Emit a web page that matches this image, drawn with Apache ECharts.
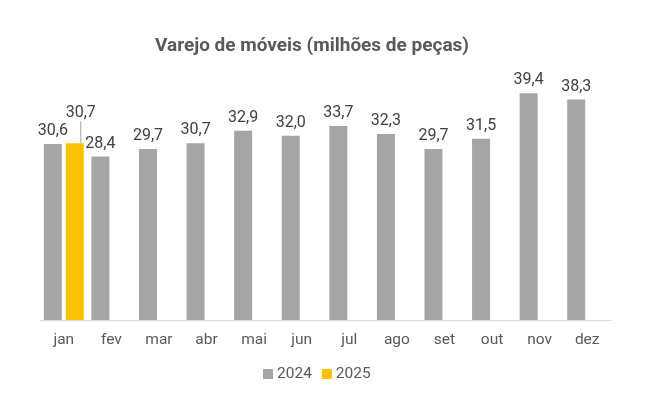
<!DOCTYPE html>
<html><head><meta charset="utf-8">
<script src="https://cdn.jsdelivr.net/npm/echarts@6/dist/echarts.min.js"></script>
<style>html,body{margin:0;padding:0;background:#fff}#c{width:651px;height:396px}</style>
</head><body><div id="c"></div>
<script>
const categories = ['jan','fev','mar','abr','mai','jun','jul','ago','set','out','nov','dez'];
const values2024 = [30.6,28.4,29.7,30.7,32.9,32.0,33.7,32.3,29.7,31.5,39.4,38.3];
const values2025 = [30.7,null,null,null,null,null,null,null,null,null,null,null];
const seriesNames = ['2024','2025'];

const fmt = p => p.value == null ? '' : p.value.toFixed(1).replace('.', ',');
const chart = echarts.init(document.getElementById('c'));
chart.setOption({
  animation: false,
  backgroundColor: '#fff',
  textStyle: { fontFamily: 'Roboto' },
  title: {
    text: 'Varejo de móveis (milhões de peças)',
    left: 150, top: 32,
    textStyle: { fontFamily: 'Roboto', fontSize: 19, fontWeight: 'bold', color: '#595959' }
  },
  legend: {
    data: seriesNames,
    left: 258, top: 361,
    itemWidth: 10, itemHeight: 10, itemGap: 10,
    icon: 'rect',
    textStyle: { fontFamily: 'Roboto', fontSize: 15.5, color: '#595959', padding: [0,0,0,-1] }
  },
  grid: { left: 40, right: 40, top: 61, bottom: 76 },
  xAxis: {
    type: 'category', data: categories,
    axisLine: { lineStyle: { color: '#d9d9d9', width: 1 } },
    axisTick: { show: false },
    axisLabel: { fontFamily: 'Roboto', fontSize: 15.5, color: '#595959', margin: 12 }
  },
  yAxis: { type: 'value', min: 0, max: 45, show: false, splitLine: { show: false } },
  series: [
    {
      name: seriesNames[0], type: 'bar', data: values2024,
      barWidth: 18, barGap: '22%',
      itemStyle: { color: '#a5a5a5' },
      label: { show: true, position: 'top', formatter: fmt, fontFamily: 'Roboto', fontSize: 16, color: '#404040', distance: 5 }
    },
    {
      name: seriesNames[1], type: 'bar', data: values2025,
      barWidth: 18,
      itemStyle: { color: '#ffc000' },
      label: { show: true, position: 'top', formatter: fmt, fontFamily: 'Roboto', fontSize: 16, color: '#404040', distance: 5 },
      labelLayout: { dx: 6, dy: -17 },
      labelLine: { show: true, lineStyle: { color: '#a6a6a6', width: 1 } }
    }
  ]
});
</script></body></html>
